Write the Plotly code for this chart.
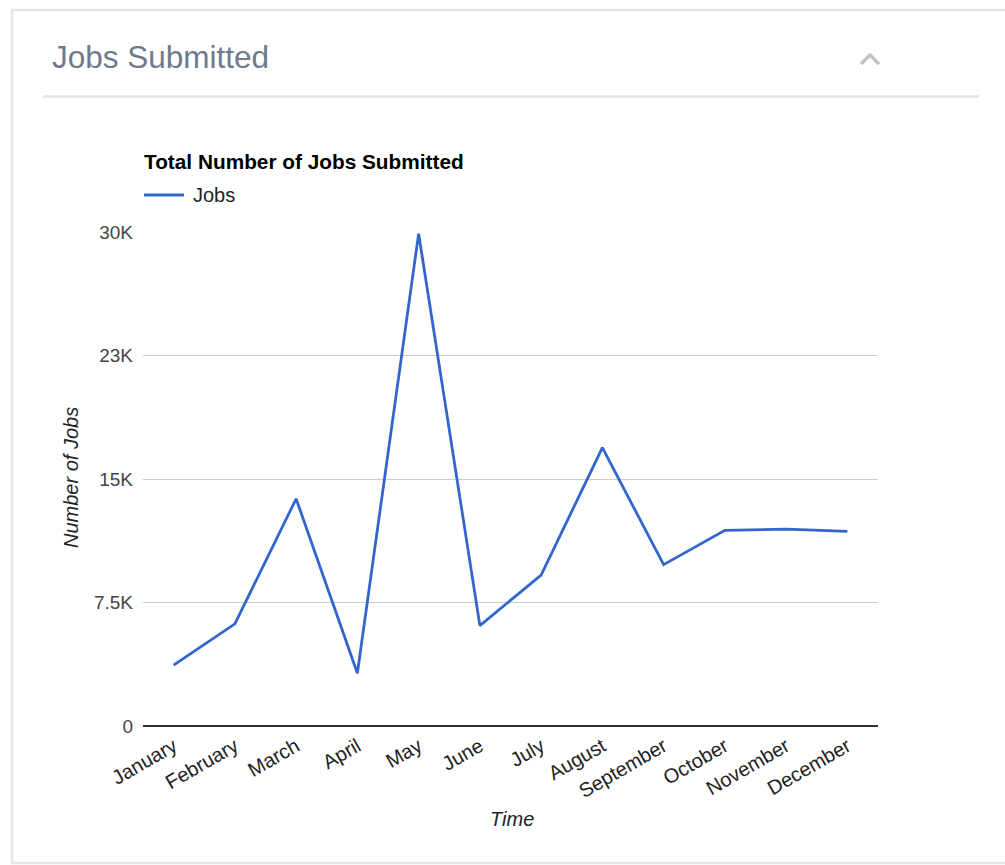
import plotly.graph_objects as go

months = ["January", "February", "March", "April", "May", "June", "July",
          "August", "September", "October", "November", "December"]
jobs = [3700, 6200, 13800, 3200, 29900, 6100, 9170, 16900, 9800, 11880, 11950, 11820]
y_tickvals = [0, 7500, 15000, 22500, 30000]
y_ticktext = ["0", "7.5K", "15K", "23K", "30K"]
series_name = "Jobs"
line_color = "#3366cc"

W, H = 1005, 865
L, R, T, B = 143, 878, 232, 726  # plot area in pixels


def px(x):
    return (x - L) / (R - L)


def py(y):
    return (B - y) / (B - T)


FONT = "Liberation Sans, Arial, sans-serif"

fig = go.Figure()
fig.add_trace(go.Scatter(
    x=months, y=jobs, mode="lines", name=series_name,
    line=dict(color=line_color, width=2.8), showlegend=False,
))

shapes = [
    # panel border
    dict(type="rect", xref="paper", yref="paper",
         x0=px(12), x1=px(1012), y0=py(10), y1=py(863),
         line=dict(color="#e6e6e6", width=2.5), fillcolor="rgba(0,0,0,0)", layer="below"),
    # header separator
    dict(type="line", xref="paper", yref="paper",
         x0=px(43), x1=px(979), y0=py(96.5), y1=py(96.5),
         line=dict(color="#e4e4e4", width=2.5)),
    # chevron
    dict(type="path", xref="paper", yref="paper",
         path=f"M {px(861)} {py(64)} L {px(870)} {py(55)} L {px(879)} {py(64)}",
         line=dict(color="#c4c4c4", width=3.5)),
    # legend swatch
    dict(type="line", xref="paper", yref="paper",
         x0=px(144), x1=px(184), y0=py(195), y1=py(195),
         line=dict(color=line_color, width=3)),
]

annotations = [
    dict(text="Jobs Submitted", xref="paper", yref="paper", x=px(50), y=py(57),
         xanchor="left", yanchor="middle", showarrow=False,
         font=dict(family=FONT, size=31.5, color="#6e7a8c")),
    dict(text="<b>Total Number of Jobs Submitted</b>", xref="paper", yref="paper",
         x=px(142), y=py(161), xanchor="left", yanchor="middle", showarrow=False,
         font=dict(family=FONT, size=20.8, color="#000000")),
    dict(text=series_name, xref="paper", yref="paper", x=px(191), y=py(195),
         xanchor="left", yanchor="middle", showarrow=False,
         font=dict(family=FONT, size=20, color="#222222")),
    dict(text="<i>Time</i>", xref="paper", yref="paper", x=px(512), y=py(819),
         xanchor="center", yanchor="middle", showarrow=False,
         font=dict(family=FONT, size=20, color="#222222")),
    dict(text="<i>Number of Jobs</i>", xref="paper", yref="paper", x=px(71), y=py(478),
         xanchor="center", yanchor="middle", showarrow=False, textangle=-90,
         font=dict(family=FONT, size=20, color="#222222")),
]

fig.update_layout(
    width=W, height=H,
    margin=dict(l=L, r=W - R, t=T, b=H - B, pad=0),
    paper_bgcolor="white", plot_bgcolor="white",
    font=dict(family=FONT, size=19, color="#444444"),
    showlegend=False,
    shapes=shapes,
    annotations=annotations,
)
fig.update_xaxes(
    type="category", range=[-0.5, 11.5], tickangle=-30, showgrid=False,
    showline=False, ticks="", ticklabelstandoff=4,
    tickfont=dict(family=FONT, size=20, color="#222222"), fixedrange=True,
)
fig.update_yaxes(
    range=[0, 30000], tickvals=y_tickvals, ticktext=y_ticktext,
    showgrid=True, gridcolor="#cccccc", gridwidth=1,
    zeroline=True, zerolinecolor="#333333", zerolinewidth=2,
    ticks="", ticklabelstandoff=9,
    tickfont=dict(family=FONT, size=19, color="#444444"), fixedrange=True,
)

fig.write_html("out.html")
